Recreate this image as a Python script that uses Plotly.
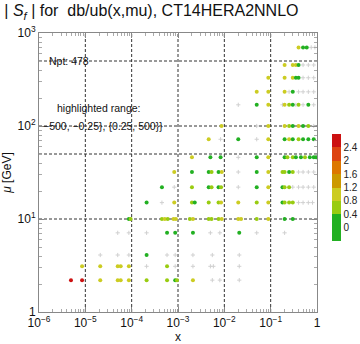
import math
import plotly.graph_objects as go

# Scale mu [GeV] of each row of points
row_mu = [2.2, 3.1, 4.1, 7.1, 10, 15, 22, 32, 46, 72, 100, 169, 233, 330, 453, 700]

# Momentum fractions x in each row
row_x = [
    [4.9e-6, 8.5e-6, 2.1e-5, 5.0e-5, 5.8e-5, 8.7e-5, 2.1e-4, 5.8e-4, 8.7e-4, 9.5e-4, 2.1e-3, 5.5e-3, 8.0e-3, 0.021],
    [8.5e-6, 2.1e-5, 5.0e-5, 5.8e-5, 8.7e-5, 2.1e-4, 5.8e-4, 8.7e-4, 2.1e-3, 5.0e-3, 5.8e-3, 0.021],
    [2.1e-5, 5.0e-5, 8.7e-5, 2.1e-4, 5.8e-4, 8.7e-4, 2.1e-3, 5.5e-3, 0.021],
    [5.0e-5, 8.7e-5, 2.1e-4, 5.8e-4, 8.7e-4, 2.1e-3, 5.0e-3, 8.0e-3, 0.021, 0.05, 0.2],
    [8.7e-5, 9.5e-5, 4.5e-4, 5.2e-4, 6.0e-4, 8.0e-4, 9.0e-4, 1.8e-3, 2.1e-3, 4.6e-3, 5.3e-3, 7.5e-3, 8.8e-3, 0.02, 0.023, 0.05, 0.089, 0.2, 0.3],
    [2.1e-4, 4.5e-4, 8.3e-4, 2.0e-3, 2.3e-3, 4.6e-3, 7.5e-3, 8.5e-3, 0.02, 0.05, 0.089, 0.18, 0.2, 0.25, 0.3, 0.4, 0.5, 0.65, 0.8],
    [4.5e-4, 8.3e-4, 2.0e-3, 4.6e-3, 5.3e-3, 7.5e-3, 8.5e-3, 0.02, 0.05, 0.089, 0.18, 0.2, 0.25, 0.3, 0.4, 0.5, 0.65, 0.85],
    [8.3e-4, 2.0e-3, 4.6e-3, 5.3e-3, 7.5e-3, 8.8e-3, 0.02, 0.05, 0.089, 0.18, 0.2, 0.25, 0.3, 0.4, 0.5, 0.65, 0.85],
    [2.0e-3, 5.0e-3, 8.3e-3, 0.02, 0.05, 0.089, 0.2, 0.23, 0.3, 0.35, 0.45, 0.55, 0.7, 0.85, 0.95],
    [4.6e-3, 8.3e-3, 0.02, 0.05, 0.089, 0.2, 0.25, 0.3, 0.4, 0.5, 0.65, 0.85],
    [8.7e-3, 0.05, 0.089, 0.2, 0.25, 0.3, 0.4, 0.5, 0.65, 0.85],
    [0.02, 0.05, 0.089, 0.18, 0.2, 0.25, 0.3, 0.35, 0.4, 0.5, 0.65, 0.85],
    [0.05, 0.089, 0.2, 0.25, 0.3, 0.4, 0.5, 0.65, 0.85],
    [0.089, 0.2, 0.3, 0.35, 0.4, 0.5, 0.65, 0.85],
    [0.2, 0.3, 0.35, 0.4, 0.5, 0.65, 0.85],
    [0.4, 0.5, 0.6, 0.75, 0.9],
]

# |S_f| sensitivity of each point
row_sf = [
    [2.5, 2.6, 1.0, 0.9, 0.85, 1.0, 0.6, 0.45, 0.35, 0.4, 1.0, 0.1, 0.1, 0.1],
    [0.9, 0.9, 1.0, 0.9, 0.8, 0.15, 0.4, 0.15, 0.15, 0.1, 0.1, 0.1],
    [0.1, 0.1, 0.12, 0.3, 0.1, 0.12, 0.1, 0.1, 0.1],
    [0.1, 0.1, 0.1, 0.35, 0.35, 0.35, 0.1, 0.1, 0.35, 0.1, 0.1],
    [0.35, 0.4, 0.6, 0.9, 0.7, 1.0, 0.8, 0.4, 0.9, 0.4, 0.5, 0.4, 0.9, 0.9, 0.8, 0.4, 0.9, 0.35, 0.35],
    [0.35, 0.1, 0.8, 0.4, 0.3, 0.4, 0.4, 0.8, 0.9, 0.4, 0.9, 0.35, 0.6, 0.45, 0.4, 0.1, 0.1, 0.1, 0.1],
    [0.35, 0.15, 0.4, 0.35, 0.5, 0.35, 0.6, 0.1, 0.35, 0.9, 0.35, 0.5, 0.4, 0.1, 0.1, 0.1, 0.1, 0.1],
    [0.9, 0.35, 0.35, 0.5, 0.35, 0.9, 0.1, 0.35, 0.9, 0.4, 0.6, 0.35, 0.45, 0.1, 0.1, 0.1, 0.1],
    [0.9, 0.35, 0.35, 0.1, 0.35, 0.9, 0.35, 0.6, 0.4, 0.35, 0.35, 0.5, 0.35, 0.35, 0.35],
    [0.9, 0.1, 0.35, 0.1, 0.9, 0.35, 0.9, 0.35, 0.5, 0.35, 0.35, 0.35],
    [0.9, 0.1, 0.9, 0.8, 0.5, 0.35, 0.9, 0.35, 0.4, 0.1],
    [0.1, 0.35, 0.9, 0.1, 0.9, 0.4, 0.35, 0.1, 0.6, 0.1, 0.35, 0.1],
    [0.9, 0.9, 0.9, 0.1, 0.35, 0.1, 0.1, 0.1, 0.1],
    [0.9, 0.9, 0.8, 0.35, 0.35, 0.1, 0.1, 0.1],
    [0.9, 0.9, 0.8, 0.35, 0.1, 0.1, 0.1],
    [1.0, 0.35, 0.35, 0.1, 0.1],
]

x_tick_vals = [1e-6, 1e-5, 1e-4, 1e-3, 1e-2, 1e-1, 1]
x_tick_text = ["10<sup>−6</sup>", "10<sup>−5</sup>", "10<sup>−4</sup>", "10<sup>−3</sup>",
               "10<sup>−2</sup>", "10<sup>−1</sup>", "1"]
y_tick_vals = [1, 10, 100, 1000]
y_tick_text = ["1", "10<sup>1</sup>", "10<sup>2</sup>", "10<sup>3</sup>"]

x_grid = [1e-5, 1e-4, 1e-3, 1e-2, 1e-1]
mu_grid = [10, 50, 100, 500]

cbar_ticks = [0, 0.4, 0.8, 1.2, 1.6, 2.0, 2.4]
cut = 0.25
n_points = 478

# flatten rows
xs, mus, sfs = [], [], []
for mu, xr, sr in zip(row_mu, row_x, row_sf):
    for xv, sv in zip(xr, sr):
        xs.append(xv)
        mus.append(mu)
        sfs.append(sv)

hx = [a for a, s in zip(xs, sfs) if s >= cut]
hm = [b for b, s in zip(mus, sfs) if s >= cut]
hs = [s for s in sfs if s >= cut]
lx = [a for a, s in zip(xs, sfs) if s < cut]
lm = [b for b, s in zip(mus, sfs) if s < cut]

seg = ["#22b022", "#22b022", "#99cc11", "#cccc22", "#cc9900", "#dd7700", "#dd4411", "#cc1111"]
cscale = []
for i, c in enumerate(seg):
    cscale.append([i / len(seg), c])
    cscale.append([(i + 1) / len(seg), c])

FONT = "Liberation Sans, Arial, sans-serif"
TXT = dict(size=10.5, family=FONT, color="#111")

fig = go.Figure()
fig.add_trace(go.Scatter(
    x=lx, y=lm, mode="markers",
    marker=dict(symbol="cross-thin", size=3, line=dict(width=1, color="#d0d0d0")),
    showlegend=False, hoverinfo="skip"))
fig.add_trace(go.Scatter(
    x=hx, y=hm, mode="markers",
    marker=dict(symbol="circle", size=4, color=hs, colorscale=cscale, cmin=-0.4, cmax=2.8,
                line=dict(width=0),
                colorbar=dict(x=1.054, xanchor="left", xpad=0, thickness=9,
                              lenmode="pixels", len=107, y=0.446, yanchor="middle", ypad=0,
                              outlinewidth=0, tickvals=cbar_ticks,
                              ticktext=[f"{t:g}" for t in cbar_ticks], ticks="",
                              tickfont=dict(size=10, family=FONT, color="#222"))),
    showlegend=False))

for xv in x_grid:
    fig.add_shape(type="line", xref="x", yref="paper", x0=xv, x1=xv, y0=0, y1=1,
                  line=dict(color="#333", width=1, dash="3px,2px"), layer="below")
for mv in mu_grid:
    fig.add_shape(type="line", xref="paper", yref="y", x0=0, x1=1, y0=mv, y1=mv,
                  line=dict(color="#333", width=1, dash="3px,2px"), layer="below")

axis_common = dict(type="log", showgrid=False, zeroline=False, showline=True, linecolor="#888",
                   linewidth=1, mirror="ticks", ticks="inside", ticklen=5, tickcolor="#888",
                   automargin=False,
                   tickfont=dict(size=12, family=FONT, color="#111"),
                   minor=dict(dtick="D1", ticks="inside", ticklen=3, tickcolor="#aaa",
                              showgrid=False))

fig.update_layout(
    width=360, height=344,
    margin=dict(l=39, r=43, t=33, b=32, autoexpand=False),
    paper_bgcolor="white", plot_bgcolor="white",
    title=dict(text="| <i>S<sub>f</sub></i> | for  db/ub(x,mu), CT14HERA2NNLO",
               x=0.012, xanchor="left", y=0.985, yanchor="top",
               font=dict(size=16, family=FONT, color="#111")),
    xaxis=dict(axis_common, range=[-6, 0], tickvals=x_tick_vals, ticktext=x_tick_text,
               title=dict(text="x", font=dict(size=12, family=FONT, color="#111"), standoff=6)),
    yaxis=dict(axis_common, range=[0, 3], tickvals=y_tick_vals, ticktext=y_tick_text,
               title=dict(text="<i>μ</i> [GeV]", font=dict(size=12, family=FONT, color="#111"),
                          standoff=4)),
    annotations=[
        dict(text=f"Npt: {n_points}", xref="paper", yref="y", x=0.028, y=math.log10(500),
             xanchor="left", yanchor="middle", showarrow=False, font=TXT),
        dict(text="highlighted range:", xref="paper", yref="paper", x=0.058, y=0.73,
             xanchor="left", yanchor="middle", showarrow=False, font=TXT),
        dict(text="−500, −0.25}, {0.25, 500}}", xref="paper", yref="y", x=0.008, y=2,
             xanchor="left", yanchor="middle", showarrow=False, font=TXT),
    ],
)

fig.write_html("out.html")
